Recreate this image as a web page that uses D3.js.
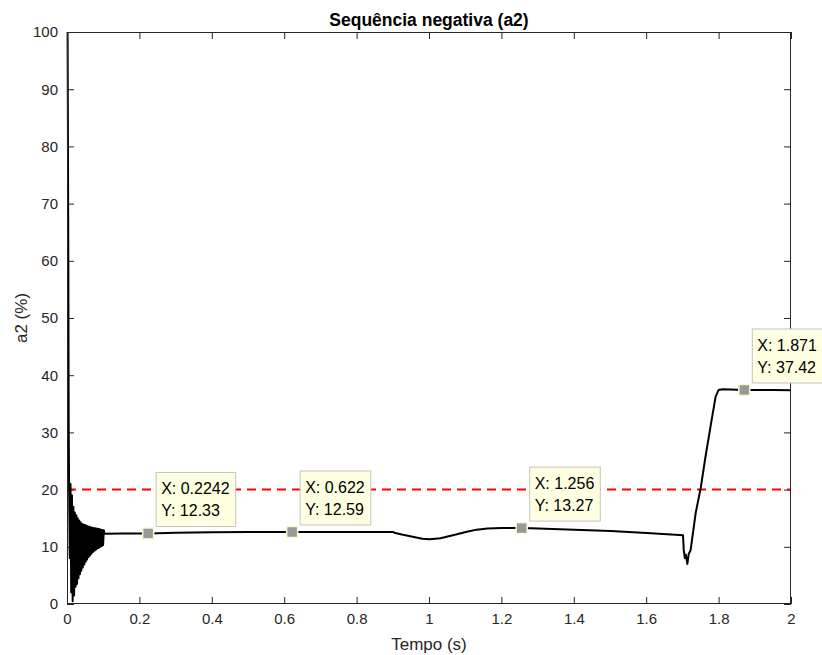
<!DOCTYPE html>
<html>
<head>
<meta charset="utf-8">
<script src="https://cdn.jsdelivr.net/npm/d3@7"></script>
<style>
  html, body { margin: 0; padding: 0; background: #ffffff; }
  svg { display: block; font-family: "Liberation Sans", Arial, Helvetica, sans-serif; }
</style>
</head>
<body>
<svg id="chart" width="822" height="655"></svg>
<script>
// ---------------- data ----------------
const titleText = "Sequência negativa (a2)";
const xLabelText = "Tempo (s)";
const yLabelText = "a2 (%)";

const xTicks = [0, 0.2, 0.4, 0.6, 0.8, 1, 1.2, 1.4, 1.6, 1.8, 2];
const yTicks = [0, 10, 20, 30, 40, 50, 60, 70, 80, 90, 100];

// time (s) of the a2 trace
const tempo = [
  0.000, 0.002, 0.003, 0.004, 0.006, 0.008, 0.010, 0.012, 0.014, 0.016,
  0.018, 0.020, 0.022, 0.024, 0.026, 0.028, 0.030, 0.032, 0.034, 0.036,
  0.038, 0.040, 0.042, 0.044, 0.046, 0.048, 0.050, 0.052, 0.054, 0.056,
  0.058, 0.060, 0.062, 0.064, 0.066, 0.068, 0.070, 0.072, 0.074, 0.076,
  0.078, 0.080, 0.082, 0.084, 0.086, 0.088, 0.090, 0.092, 0.094, 0.096,
  0.098, 0.100, 0.102, 0.150, 0.2242, 0.300, 0.400, 0.500, 0.622, 0.700,
  0.800, 0.900, 0.905, 0.920, 0.950, 0.980, 1.000, 1.030, 1.070, 1.100,
  1.130, 1.160, 1.200, 1.256, 1.300, 1.400, 1.500, 1.600, 1.690, 1.700,
  1.702, 1.705, 1.708, 1.712, 1.716, 1.721, 1.735, 1.749, 1.762, 1.776,
  1.790, 1.798, 1.810, 1.871, 1.950, 2.000
];
// a2 (%) values at those times
const a2 = [
  100, 60, 31, 22, 8, 21, 2, 19, 0.5, 17,
  1.5, 16, 3, 15.5, 3.5, 15, 4.5, 14.6, 5.2, 14.3,
  5.8, 14.0, 6.4, 13.9, 6.9, 13.8, 7.4, 13.7, 7.8, 13.6,
  8.2, 13.5, 8.5, 13.4, 8.8, 13.35, 9.1, 13.3, 9.3, 13.25,
  9.5, 13.2, 9.7, 13.15, 9.8, 13.1, 10.0, 13.0, 10.1, 12.95,
  10.3, 12.9, 12.3, 12.32, 12.33, 12.45, 12.55, 12.58, 12.59, 12.6,
  12.6, 12.58, 12.4, 12.2, 11.8, 11.4, 11.3, 11.5, 12.1, 12.6,
  13.0, 13.2, 13.3, 13.27, 13.2, 13.0, 12.75, 12.4, 12.05, 12.0,
  9.5, 8.0, 8.6, 7.0, 8.8, 9.4, 15.9, 20.3, 25.7, 31.0,
  36.2, 37.4, 37.55, 37.42, 37.4, 37.35
];

// reference limit (red dashed)
const limitValue = 20;

// data tips
const tipX = [0.2242, 0.622, 1.256, 1.871];
const tipY = [12.33, 12.59, 13.27, 37.42];
const tipXText = ["0.2242", "0.622", "1.256", "1.871"];
const tipYText = ["12.33", "12.59", "13.27", "37.42"];

// ---------------- layout ----------------
const svg = d3.select("#chart");
const L = 67, R = 791, T = 32, B = 604;
const x = d3.scaleLinear().domain([0, 2]).range([L, R]);
const y = d3.scaleLinear().domain([0, 100]).range([B, T]);
const axisColor = "#262626";
const tickFont = "15px";

svg.append("rect").attr("x", 0).attr("y", 0).attr("width", 822).attr("height", 655).attr("fill", "#fff");
svg.append("rect").attr("x", L).attr("y", T).attr("width", R - L).attr("height", B - T).attr("fill", "#fff");

// axes with ticks (inward, mirrored)
function styleAxis(g) {
  g.select(".domain").remove();
  g.selectAll(".tick line").attr("stroke", axisColor).attr("stroke-width", 1);
  g.selectAll(".tick text").attr("fill", axisColor).style("font-size", tickFont);
}
const xb = svg.append("g").attr("transform", `translate(0,${B})`)
  .call(d3.axisBottom(x).tickValues(xTicks).tickSizeInner(-7).tickSizeOuter(0).tickPadding(15).tickFormat(d3.format("~g")));
styleAxis(xb);
const xt = svg.append("g").attr("transform", `translate(0,${T})`)
  .call(d3.axisTop(x).tickValues(xTicks).tickSizeInner(-7).tickSizeOuter(0).tickFormat(""));
styleAxis(xt);
const yl = svg.append("g").attr("transform", `translate(${L},0)`)
  .call(d3.axisLeft(y).tickValues(yTicks).tickSizeInner(-7).tickSizeOuter(0).tickPadding(9).tickFormat(d3.format("~g")));
styleAxis(yl);
const yr = svg.append("g").attr("transform", `translate(${R},0)`)
  .call(d3.axisRight(y).tickValues(yTicks).tickSizeInner(-7).tickSizeOuter(0).tickFormat(""));
styleAxis(yr);
xb.selectAll(".tick text").attr("dy", "0.35em").attr("y", 15);

// clip (slightly wider so the t=0 stroke stays visible)
svg.append("clipPath").attr("id", "clip").append("rect")
  .attr("x", L - 1).attr("y", T - 1).attr("width", R - L + 1).attr("height", B - T + 2);

// reference line
svg.append("line")
  .attr("x1", x(0)).attr("x2", x(2)).attr("y1", y(limitValue)).attr("y2", y(limitValue))
  .attr("stroke", "#ff0000").attr("stroke-width", 2).attr("stroke-dasharray", "9,6");

// data line
const pts = tempo.map((t, i) => [t, a2[i]]);
svg.append("path").datum(pts)
  .attr("clip-path", "url(#clip)")
  .attr("fill", "none").attr("stroke", "#000").attr("stroke-width", 2).attr("stroke-linejoin", "round")
  .attr("d", d3.line().x(d => x(d[0]) + 0.6).y(d => y(d[1])));

// box
svg.append("rect").attr("x", L + 0.5).attr("y", T + 0.5).attr("width", R - L - 1).attr("height", B - T - 1)
  .attr("fill", "none").attr("stroke", axisColor).attr("stroke-width", 1);

// data tips
tipX.forEach((tx, i) => {
  const px = x(tx), py = y(tipY[i]);
  const g = svg.append("g");
  const bx = px + 8, bb = py - 7, bt = bb - 54;
  const rect = g.append("rect").attr("x", bx).attr("y", bt).attr("height", 54)
    .attr("fill", "#ffffe1").attr("stroke", "#c4c4c4").attr("stroke-width", 1);
  const t1 = g.append("text").attr("x", bx + 5).attr("y", bt + 22).attr("fill", "#000")
    .style("font-size", "16px").text("X: " + tipXText[i]);
  const t2 = g.append("text").attr("x", bx + 5).attr("y", bt + 44).attr("fill", "#000")
    .style("font-size", "16px").text("Y: " + tipYText[i]);
  const w = Math.max(t1.node().getComputedTextLength(), t2.node().getComputedTextLength());
  rect.attr("width", w + 11);
  svg.append("rect").attr("x", px - 5.5).attr("y", py - 5.5).attr("width", 11).attr("height", 11)
    .attr("fill", "#999999").attr("stroke", "#fbfbd0").attr("stroke-width", 1.5);
});

// labels
svg.append("text").attr("x", (L + R) / 2).attr("y", 26).attr("text-anchor", "middle")
  .attr("fill", "#000").style("font-size", "17.5px").style("font-weight", "bold").text(titleText);
svg.append("text").attr("x", (L + R) / 2).attr("y", 650).attr("text-anchor", "middle")
  .attr("fill", axisColor).style("font-size", "17px").text(xLabelText);
svg.append("text").attr("transform", `translate(27,${(T + B) / 2}) rotate(-90)`).attr("text-anchor", "middle")
  .attr("fill", axisColor).style("font-size", "17px").text(yLabelText);
</script>
</body>
</html>
